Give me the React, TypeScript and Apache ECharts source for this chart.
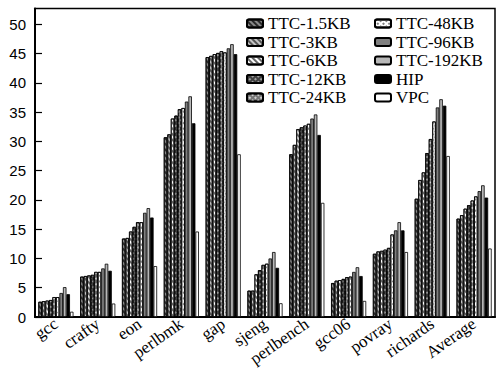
import React, { useEffect, useRef } from "react";
import * as echarts from "echarts";

const categories = ["gcc", "crafty", "eon", "perlbmk", "gap", "sjeng", "perlbench", "gcc06", "povray", "richards", "Average"];
const seriesNames = ["TTC-1.5KB", "TTC-3KB", "TTC-6KB", "TTC-12KB", "TTC-24KB", "TTC-48KB", "TTC-96KB", "TTC-192KB", "HIP", "VPC"];
const ttc15 = [2.6, 6.9, 13.4, 30.7, 44.4, 4.5, 27.8, 5.8, 10.8, 20.2, 16.8];
const ttc3 = [2.7, 7.0, 13.5, 31.2, 44.6, 4.5, 29.4, 6.2, 11.2, 23.4, 17.4];
const ttc6 = [2.8, 7.1, 14.6, 33.9, 44.9, 7.3, 32.1, 6.3, 11.3, 24.7, 18.5];
const ttc12 = [2.9, 7.2, 15.4, 34.4, 45.1, 8.0, 32.4, 6.5, 11.5, 28.0, 19.1];
const ttc24 = [3.4, 7.7, 16.2, 35.5, 45.4, 8.9, 32.7, 6.8, 11.8, 30.4, 19.9];
const ttc48 = [3.4, 7.7, 16.2, 35.7, 45.2, 9.1, 33.0, 6.9, 14.1, 33.4, 20.6];
const ttc96 = [4.1, 8.3, 17.8, 36.8, 45.9, 10.0, 33.9, 7.7, 14.8, 35.8, 21.5];
const ttc192 = [5.1, 9.1, 18.6, 37.7, 46.6, 11.1, 34.6, 8.5, 16.2, 37.2, 22.5];
const hip = [3.9, 7.9, 17.0, 33.1, 44.9, 8.4, 31.1, 7.0, 14.8, 36.1, 20.4];
const vpc = [0.9, 2.3, 8.7, 14.6, 27.8, 2.35, 19.5, 2.75, 11.1, 27.5, 11.7];
const yTicks = [0, 5, 10, 15, 20, 25, 30, 35, 40, 45, 50];

const allData = [ttc15, ttc3, ttc6, ttc12, ttc24, ttc48, ttc96, ttc192, hip, vpc];

const stripe = (color: string) => ({
  symbol: "rect",
  symbolSize: 1,
  color,
  dashArrayX: [1, 0],
  dashArrayY: [1.2, 1.6],
  rotation: Math.PI / 4,
});
const cross = (color: string) => ({
  symbol: "rect",
  symbolSize: 1,
  color,
  dashArrayX: [1.5, 1.5],
  dashArrayY: [1.5, 1.5],
  rotation: Math.PI / 4,
});

const styles: any[] = [
  { color: "#8a8a8a", decal: stripe("#2a2a2a") },
  { color: "#c4c4c4", decal: stripe("#555555") },
  { color: "#ffffff", decal: stripe("#666666") },
  { color: "#404040", decal: cross("#a0a0a0") },
  { color: "#777777", decal: cross("#d0d0d0") },
  { color: "#ffffff", decal: cross("#808080") },
  { color: "#808080" },
  { color: "#b8b8b8" },
  { color: "#000000" },
  { color: "#ffffff" },
];

export default function App() {
  const ref = useRef<HTMLDivElement>(null);
  useEffect(() => {
    if (!ref.current) return;
    const chart = echarts.init(ref.current, undefined, { renderer: "svg" });
    const legendText = { fontFamily: "Liberation Serif", fontSize: 17, color: "#000", lineHeight: 17 };
    chart.setOption({
      animation: false,
      backgroundColor: "#fff",
      grid: {
        left: 35,
        top: 8.5,
        right: 2,
        bottom: 54,
        outerBoundsMode: "none",
        containLabel: false,
        show: true,
        borderColor: "#000",
        borderWidth: 1.5,
      },
      legend: [
        {
          data: seriesNames.slice(0, 5),
          orient: "vertical",
          left: 246,
          top: 15,
          itemWidth: 16,
          itemHeight: 8,
          itemGap: 1.5,
          padding: 0,
          textStyle: legendText,
        },
        {
          data: seriesNames.slice(5),
          orient: "vertical",
          left: 374,
          top: 15,
          itemWidth: 16,
          itemHeight: 8,
          itemGap: 1.5,
          padding: 0,
          textStyle: legendText,
        },
      ],
      xAxis: {
        type: "category",
        data: categories,
        axisLine: { lineStyle: { color: "#000", width: 2 } },
        axisTick: { show: false },
        axisLabel: {
          rotate: 35,
          margin: 5,
          interval: 0,
          fontFamily: "Liberation Serif",
          fontSize: 17,
          color: "#000",
        },
      },
      yAxis: {
        type: "value",
        min: yTicks[0],
        max: 52.7,
        interval: 5,
        splitLine: { show: false },
        axisLine: { show: true, lineStyle: { color: "#000", width: 2 } },
        axisTick: { show: true, inside: true, length: 7, lineStyle: { color: "#000", width: 1.2 } },
        axisLabel: {
          showMaxLabel: false,
          margin: 9,
          fontFamily: "Liberation Sans",
          fontSize: 15,
          color: "#000",
        },
      },
      series: seriesNames.map((name, i) => ({
        name,
        type: "bar",
        data: allData[i],
        barGap: "0%",
        barCategoryGap: "16%",
        itemStyle: { ...styles[i], borderColor: "#000", borderWidth: 0.8 },
      })),
    });
    return () => chart.dispose();
  }, []);
  return <div ref={ref} style={{ width: 497, height: 371, position: "absolute", left: 0, top: 0 }} />;
}
